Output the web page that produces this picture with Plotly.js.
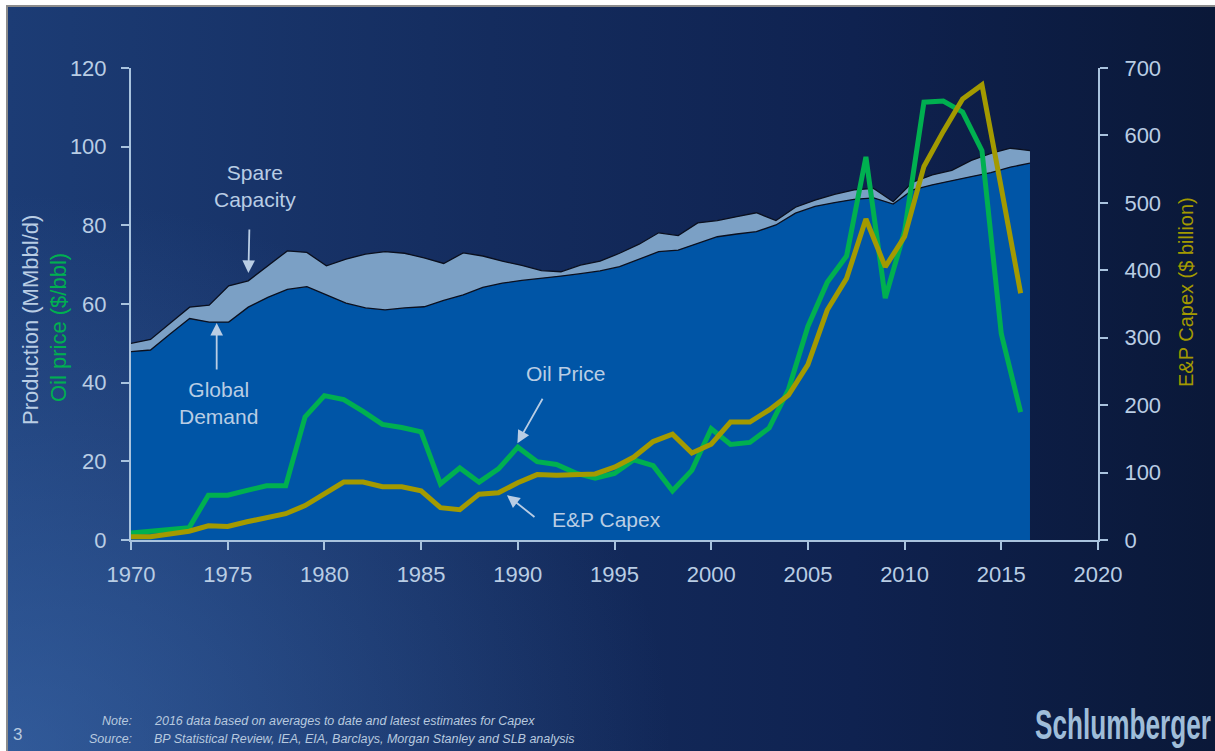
<!DOCTYPE html>
<html>
<head>
<meta charset="utf-8">
<script src="https://cdn.plot.ly/plotly-3.0.1.min.js"></script>
<style>
  html, body { margin:0; padding:0; background:#ffffff; overflow:hidden; }
  #slide {
    position:absolute; left:6px; top:5px; width:1209px; height:746px;
    border-left:2px solid #8c8c8c; border-top:2px solid #8c8c8c; box-sizing:border-box;
    background:
      radial-gradient(ellipse 55% 75% at 0% 100%, rgba(70,120,190,0.50) 0%, rgba(70,120,190,0) 100%),
      linear-gradient(90deg, #1c3c75 0%, #142c5e 40%, #0f2250 70%, #0a1838 100%);
  }
  #chart { position:absolute; left:0; top:0; width:1215px; height:751px; }
  #logo {
    position:absolute; left:1035px; top:704px;
    font-family:"Liberation Sans",Arial,sans-serif;
    font-weight:bold; font-size:42px; color:#9fbdd9; line-height:42px;
    transform-origin:0 0; white-space:nowrap;
  }
</style>
</head>
<body>
<div id="slide"></div>
<div id="chart"></div>
<span id="logo">Schlumberger</span>
<script>
// ---------- data ----------
const years = [1970,1971,1972,1973,1974,1975,1976,1977,1978,1979,
               1980,1981,1982,1983,1984,1985,1986,1987,1988,1989,
               1990,1991,1992,1993,1994,1995,1996,1997,1998,1999,
               2000,2001,2002,2003,2004,2005,2006,2007,2008,2009,
               2010,2011,2012,2013,2014,2015,2016];

// Global demand (MMbbl/d)
const globalDemand = [47.9,48.3,52.4,56.3,55.4,55.4,59.2,61.7,63.7,64.4,
                      62.3,60.2,59.0,58.5,59.0,59.3,60.9,62.3,64.2,65.3,
                      66.0,66.5,67.1,67.7,68.4,69.5,71.4,73.3,73.7,75.4,
                      77.1,77.8,78.4,80.1,83.1,84.8,85.8,86.6,87.0,85.4,
                      89.0,90.3,91.4,92.4,93.4,94.8,95.8];

// Demand + spare capacity (MMbbl/d)
const totalCapacity = [50.0,51.0,55.1,59.2,59.7,64.6,65.9,69.7,73.5,73.1,
                       69.7,71.4,72.7,73.3,72.9,71.7,70.3,73.0,72.2,70.9,
                       69.8,68.5,68.2,69.9,70.9,72.9,75.2,78.1,77.4,80.6,
                       81.2,82.2,83.2,81.2,84.6,86.4,87.9,89.0,89.4,86.0,
                       91.0,92.8,94.0,96.5,98.3,99.6,99.0];

// Oil price ($/bbl)
const oilPrice = [1.8,2.2,2.5,3.1,11.4,11.4,12.6,13.8,13.8,31.3,
                  36.7,35.7,32.7,29.4,28.6,27.5,14.3,18.3,14.7,18.1,
                  23.6,19.9,19.2,17.0,15.7,16.9,20.4,18.9,12.5,17.7,
                  28.3,24.3,24.8,28.5,38.3,54.3,65.5,72.2,97.4,61.5,
                  78.5,111.3,111.6,108.8,99.0,52.4,32.5];

// E&P Capex ($ billion)
const epCapex = [5,5,9,13,21,20,27,33,39,51,
                 69,86,86,79,79,73,48,45,68,70,
                 85,97,96,97,98,108,123,146,157,129,
                 142,175,175,193,215,260,341,388,476,405,
                 450,554,606,654,675,522,366];

const xTickVals = [1970,1975,1980,1985,1990,1995,2000,2005,2010,2015,2020];
const yLeftTicks = [0,20,40,60,80,100,120];
const yRightTicks = [0,100,200,300,400,500,600,700];

// ---------- style ----------
const FONT = '"Liberation Sans",Arial,sans-serif';
const AXC = '#a9c3de';
const TXT = '#b9cde4';
const GREEN = '#00b050';
const OLIVE = '#a39a00';

const traces = [
  // areas on the (hidden) area axis "x", drawn first
  {x:years, y:globalDemand, xaxis:'x', yaxis:'y', mode:'lines', type:'scatter',
   fill:'tozeroy', fillcolor:'#0055a6', line:{color:'#0a0f1e', width:1.3}, hoverinfo:'skip'},
  {x:years, y:totalCapacity, xaxis:'x', yaxis:'y', mode:'lines', type:'scatter',
   fill:'tonexty', fillcolor:'#7ba0c5', line:{color:'#0a0f1e', width:1.3}, hoverinfo:'skip'},
  // lines on the visible year axis "x2"
  {x:years, y:oilPrice, xaxis:'x2', yaxis:'y', mode:'lines', type:'scatter',
   line:{color:GREEN, width:5}},
  {x:years, y:epCapex, xaxis:'x2', yaxis:'y2', mode:'lines', type:'scatter',
   line:{color:OLIVE, width:5}}
];

// helpers for placing page text in pixels
const L = 131, R = 1098, T = 68, B = 540;
const px = v => (v - L) / (R - L);
const py = v => (B - v) / (B - T);

const arrowStyle = {showarrow:true, arrowhead:2, arrowsize:1.4, arrowwidth:1.8, arrowcolor:'#b9cde4', text:''};
const lbl = (x, y, text, size, color, extra) => Object.assign({
  xref:'paper', yref:'paper', x:px(x), y:py(y), text:text, showarrow:false,
  xanchor:'center', yanchor:'middle', align:'center',
  font:{family:FONT, size:size, color:color}}, extra || {});

const NOTE = '#b7c9df';
const annotations = [
  lbl(255, 186, 'Spare<br>Capacity', 21, TXT),
  Object.assign({xref:'x2', yref:'y', x:1976.07, y:67.9, ax:1, ay:-45}, arrowStyle),
  lbl(218, 403, 'Global<br>Demand', 21, TXT),
  Object.assign({xref:'x2', yref:'y', x:1974.43, y:55.2, ax:0, ay:48}, arrowStyle),
  lbl(565, 373, 'Oil Price', 21, TXT),
  Object.assign({xref:'x2', yref:'y', x:1989.98, y:24.6, ax:26, ay:-46}, arrowStyle),
  lbl(606, 519, 'E&P Capex', 21, TXT),
  Object.assign({xref:'x2', yref:'y', x:1989.44, y:11.4, ax:29, ay:23}, arrowStyle),
  // axis titles
  lbl(30, 320, 'Production (MMbbl/d)', 22, TXT, {textangle:-90}),
  lbl(58, 328, 'Oil price ($/bbl)', 22, GREEN, {textangle:-90}),
  lbl(1186, 292, 'E&P Capex ($ billion)', 20, OLIVE, {textangle:-90}),
  // footer
  lbl(134, 721, '<i>Note:</i>', 12.5, NOTE, {xanchor:'right'}),
  lbl(152, 721, '<i>2016 data based on averages to date and latest estimates for Capex</i>', 12.5, NOTE, {xanchor:'left'}),
  lbl(134, 739, '<i>Source:</i>', 12.5, NOTE, {xanchor:'right'}),
  lbl(152, 739, '<i>BP Statistical Review, IEA, EIA, Barclays, Morgan Stanley and SLB analysis</i>', 12.5, NOTE, {xanchor:'left'}),
  lbl(11, 734, '3', 17, NOTE, {xanchor:'left'})
];

const axisCommon = {
  ticks:'outside', ticklen:8, tickwidth:2, tickcolor:AXC,
  showline:true, linecolor:AXC, linewidth:2,
  showgrid:false, zeroline:false, fixedrange:true,
  tickfont:{family:FONT, size:22, color:TXT}
};

const layout = {
  width:1215, height:751,
  margin:{l:L, r:1215-R, t:T, b:751-B, pad:0},
  paper_bgcolor:'rgba(0,0,0,0)', plot_bgcolor:'rgba(0,0,0,0)',
  showlegend:false,
  font:{family:FONT},
  xaxis:{range:[1970,2019.48], visible:false, fixedrange:true},
  xaxis2:Object.assign({}, axisCommon, {range:[1970,2020], tickvals:xTickVals, overlaying:'x', anchor:'y', side:'bottom', ticklabelstandoff:6}),
  yaxis:Object.assign({}, axisCommon, {range:[0,120], tickvals:yLeftTicks, anchor:'x2', ticklabelstandoff:10}),
  yaxis2:Object.assign({}, axisCommon, {range:[0,700], tickvals:yRightTicks, overlaying:'y', side:'right', anchor:'x2', ticklabelstandoff:12}),
  annotations:annotations
};

Plotly.newPlot('chart', traces, layout, {displayModeBar:false, staticPlot:true}).then(() => {
  const logo = document.getElementById('logo');
  const w = logo.getBoundingClientRect().width;
  logo.style.transform = 'scaleX(' + (176 / w).toFixed(3) + ')';
});
</script>
</body>
</html>
